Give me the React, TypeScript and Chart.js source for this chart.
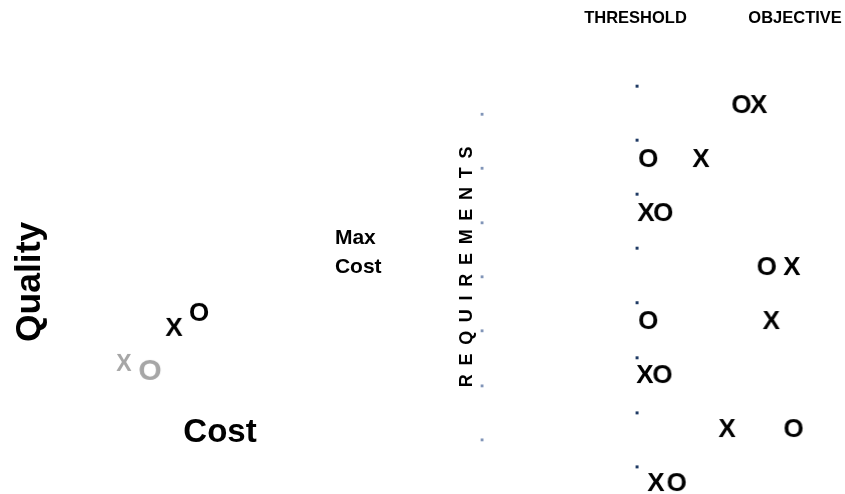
import React, { useEffect, useRef } from 'react';
import { Chart, registerables } from 'chart.js';

Chart.register(...registerables);

// ---- Right panel: requirements (rows top to bottom) ----
const requirementRows = [1, 2, 3, 4, 5, 6, 7, 8];
// position on threshold (0) -> objective (10) scale
const requirementX = [7.7, 4.05, 0.57, 9.8, 8.5, 0.5, 5.7, 1.2];
const requirementO = [6.6, 0.7, 1.65, 8.2, 0.7, 1.6, 9.9, 2.5];
// small tick marks on the threshold line and the requirements line
const thresholdTickRows = [0.67, 1.67, 2.67, 3.67, 4.68, 5.7, 6.72, 7.72];
const requirementTickRows = [1.19, 2.19, 3.2, 4.2, 5.2, 6.22, 7.22];
const thresholdValue = 0;
const objectiveValue = 10;
const requirementLineValue = -9.81;

// ---- Left panel: cost vs quality ----
const blackXCost = [4.47];
const blackXQuality = [3.77];
const blackOCost = [5.3];
const blackOQuality = [4.27];
const grayXCost = [2.8];
const grayXQuality = [2.57];
const grayOCost = [3.67];
const grayOQuality = [2.37];

const FONT = '"Liberation Sans", Arial, Helvetica, sans-serif';

function glyph(ch: string, size: number, color: string): HTMLCanvasElement {
  const c = document.createElement('canvas');
  let ctx = c.getContext('2d')!;
  const font = `bold ${size}px ${FONT}`;
  ctx.font = font;
  let w = Math.ceil(ctx.measureText(ch).width) + 4;
  if (w % 2) w += 1;
  let h = Math.ceil(size * 1.3);
  if (h % 2) h += 1;
  c.width = w;
  c.height = h;
  ctx = c.getContext('2d')!;
  ctx.font = font;
  ctx.fillStyle = color;
  ctx.textAlign = 'center';
  ctx.textBaseline = 'alphabetic';
  ctx.fillText(ch, w / 2, h / 2 + (size * 0.716) / 2);
  return c;
}

type TextLabel = {
  text: string;
  xAxis: string;
  yAxis: string;
  x: number;
  y: number;
  size: number;
  align: CanvasTextAlign;
  rotate?: number;
  spacing?: number;
};

const textLabels: TextLabel[] = [
  { text: 'Quality', xAxis: 'xc', yAxis: 'yq', x: -0.43, y: 5.27, size: 35.5, align: 'center', rotate: -Math.PI / 2 },
  { text: 'Cost', xAxis: 'xc', yAxis: 'yq', x: 6.0, y: 0.33, size: 33, align: 'center' },
  { text: 'Max', xAxis: 'xc', yAxis: 'yq', x: 9.83, y: 6.77, size: 21, align: 'left' },
  { text: 'Cost', xAxis: 'xc', yAxis: 'yq', x: 9.83, y: 5.83, size: 21, align: 'left' },
  { text: 'REQUIREMENTS', xAxis: 'xc', yAxis: 'yq', x: 14.2, y: 5.77, size: 18, align: 'center', rotate: -Math.PI / 2, spacing: 8.7 },
  { text: 'THRESHOLD', xAxis: 'xr', yAxis: 'yr', x: -0.1, y: -0.61, size: 16.5, align: 'center' },
  { text: 'OBJECTIVE', xAxis: 'xr', yAxis: 'yr', x: objectiveValue, y: -0.61, size: 16.5, align: 'center' },
];

const labelPlugin = {
  id: 'textLabels',
  afterDatasetsDraw(chart: any) {
    const ctx: CanvasRenderingContext2D = chart.ctx;
    for (const l of textLabels) {
      const px = chart.scales[l.xAxis].getPixelForValue(l.x);
      const py = chart.scales[l.yAxis].getPixelForValue(l.y);
      ctx.save();
      ctx.translate(px, py);
      if (l.rotate) ctx.rotate(l.rotate);
      ctx.font = `bold ${l.size}px ${FONT}`;
      ctx.fillStyle = '#000000';
      ctx.textAlign = l.align;
      ctx.textBaseline = 'alphabetic';
      const sp = l.spacing || 0;
      (ctx as any).letterSpacing = `${sp}px`;
      ctx.fillText(l.text, l.align === 'center' ? sp / 2 : 0, (l.size * 0.716) / 2);
      ctx.restore();
    }
  },
};

export default function App() {
  const ref = useRef<HTMLCanvasElement>(null);

  useEffect(() => {
    document.body.style.margin = '0';
    const Xr = glyph('X', 26, '#000000');
    const Or = glyph('O', 26, '#000000');
    const bX = glyph('X', 26, '#000000');
    const bO = glyph('O', 26, '#000000');
    const gX = glyph('X', 23, '#a6a6a6');
    const gO = glyph('O', 30, '#a6a6a6');

    const pts = (xs: number[], ys: number[]) => xs.map((x, i) => ({ x, y: ys[i] }));

    const chart = new Chart(ref.current!, {
      type: 'scatter',
      data: {
        datasets: [
          {
            label: 'Threshold ticks',
            xAxisID: 'xr',
            yAxisID: 'yr',
            data: thresholdTickRows.map((r) => ({ x: thresholdValue, y: r })),
            pointStyle: 'rect',
            pointRadius: 2.1,
            borderWidth: 0,
            backgroundColor: '#1f3a64',
          },
          {
            label: 'Requirement ticks',
            xAxisID: 'xr',
            yAxisID: 'yr',
            data: requirementTickRows.map((r) => ({ x: requirementLineValue, y: r })),
            pointStyle: 'rect',
            pointRadius: 2.0,
            borderWidth: 0,
            backgroundColor: '#8195b8',
          },
          {
            label: 'X',
            xAxisID: 'xr',
            yAxisID: 'yr',
            data: pts(requirementX, requirementRows),
            pointStyle: Xr,
            pointRadius: 10,
          },
          {
            label: 'O',
            xAxisID: 'xr',
            yAxisID: 'yr',
            data: pts(requirementO, requirementRows),
            pointStyle: Or,
            pointRadius: 10,
          },
          {
            label: 'X (current)',
            xAxisID: 'xc',
            yAxisID: 'yq',
            data: pts(blackXCost, blackXQuality),
            pointStyle: bX,
            pointRadius: 10,
          },
          {
            label: 'O (current)',
            xAxisID: 'xc',
            yAxisID: 'yq',
            data: pts(blackOCost, blackOQuality),
            pointStyle: bO,
            pointRadius: 10,
          },
          {
            label: 'X (previous)',
            xAxisID: 'xc',
            yAxisID: 'yq',
            data: pts(grayXCost, grayXQuality),
            pointStyle: gX,
            pointRadius: 10,
          },
          {
            label: 'O (previous)',
            xAxisID: 'xc',
            yAxisID: 'yq',
            data: pts(grayOCost, grayOQuality),
            pointStyle: gO,
            pointRadius: 10,
          },
        ],
      },
      options: {
        animation: false,
        responsive: false,
        devicePixelRatio: 1,
        events: [],
        layout: { padding: 0, autoPadding: false },
        clip: false as any,
        plugins: {
          legend: { display: false },
          tooltip: { enabled: false },
        },
        scales: {
          xr: { type: 'linear', axis: 'x', display: false, min: -40.32, max: 13.16 },
          yr: { type: 'linear', axis: 'y', display: false, reverse: true, min: -0.926, max: 8.222 },
          xc: { type: 'linear', axis: 'x', display: false, min: -1.333, max: 26.833 },
          yq: { type: 'linear', axis: 'y', display: false, min: -1.8, max: 14.667 },
        } as any,
      },
      plugins: [labelPlugin],
    });
    return () => chart.destroy();
  }, []);

  return (
    <div style={{ width: 845, height: 494, position: 'relative', background: '#ffffff' }}>
      <canvas ref={ref} width={845} height={494} style={{ display: 'block' }} />
    </div>
  );
}
